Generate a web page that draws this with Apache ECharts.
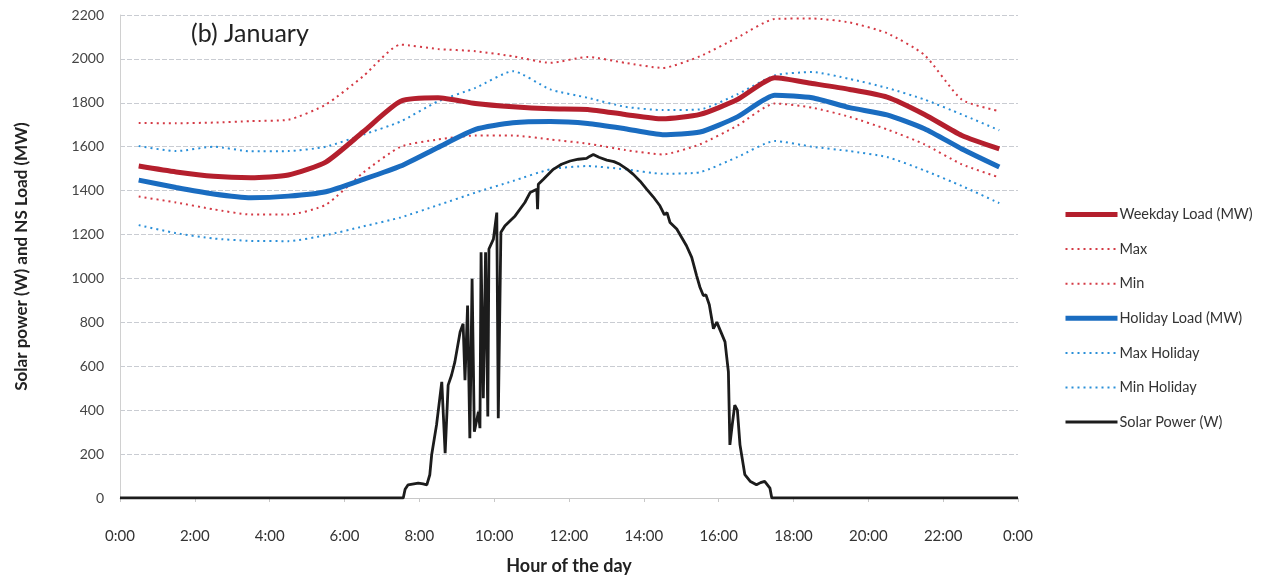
<!DOCTYPE html>
<html>
<head>
<meta charset="utf-8">
<script src="https://cdn.jsdelivr.net/npm/echarts@6/dist/echarts.min.js"></script>
<style>
html,body{margin:0;padding:0;background:#fff;}
#chart{width:1286px;height:580px;}
</style>
</head>
<body>
<div id="chart"></div>
<script>
// Hours (half-hour marks) for the load profiles
const loadHours = [0.5,1.5,2.5,3.5,4.5,5.5,6.5,7.5,8.5,9.5,10.5,11.5,12.5,13.5,14.5,15.5,16.5,17.5,18.5,19.5,20.5,21.5,22.5,23.5];
const weekdayLoad = [1512,1485,1465,1459,1471,1530,1668,1807,1823,1797,1782,1773,1770,1747,1727,1747,1815,1914,1888,1861,1826,1747,1651,1590];
const weekdayMax  = [1708,1707,1710,1717,1723,1792,1921,2065,2045,2035,2012,1982,2009,1982,1959,2012,2097,2182,2184,2166,2117,2018,1814,1762];
const weekdayMin  = [1373,1346,1315,1291,1291,1336,1482,1600,1633,1651,1651,1633,1614,1585,1565,1611,1696,1797,1778,1736,1679,1611,1520,1460];
const holidayLoad = [1448,1414,1385,1368,1375,1395,1451,1512,1597,1679,1709,1715,1706,1682,1655,1667,1736,1835,1823,1778,1745,1682,1590,1508];
const holidayMax  = [1603,1580,1600,1579,1580,1600,1655,1715,1807,1868,1944,1861,1823,1782,1767,1770,1839,1925,1940,1909,1868,1815,1747,1675];
const holidayMin  = [1243,1206,1182,1171,1170,1197,1237,1278,1334,1391,1444,1497,1512,1497,1477,1484,1553,1626,1600,1580,1553,1492,1421,1343];

// Solar power (W): time in hours, value in W
const solarHours = [0,7.57,7.62,7.70,7.97,8.10,8.20,8.28,8.33,8.46,8.60,8.69,8.77,8.86,8.95,9.09,9.17,9.22,9.29,9.35,9.41,9.47,9.58,9.62,9.65,9.71,9.77,9.83,9.86,9.98,10.07,10.11,10.18,10.29,10.56,10.82,10.96,11.14,11.16,11.18,11.31,11.58,11.80,12.03,12.25,12.47,12.55,12.65,12.80,13.01,13.20,13.36,13.55,13.72,13.90,14.08,14.25,14.43,14.55,14.62,14.70,14.88,15.00,15.14,15.28,15.41,15.50,15.59,15.66,15.75,15.86,15.95,16.05,16.17,16.21,16.26,16.30,16.36,16.43,16.50,16.57,16.70,16.85,17.01,17.12,17.23,17.37,17.42,24];
const solarValue = [0,0,40,60,68,64,60,106,197,333,529,204,514,559,620,756,794,537,877,272,998,302,393,318,1119,454,1119,371,1134,1179,1300,363,1210,1240,1285,1346,1391,1406,1315,1429,1451,1497,1520,1535,1543,1547,1556,1565,1552,1539,1532,1520,1498,1474,1443,1406,1372,1331,1290,1300,1255,1225,1190,1149,1096,1013,960,922,925,880,771,801,760,711,650,575,242,330,423,400,242,106,75,60,70,76,45,0,0];

const zip = (xs, ys) => xs.map((x, i) => [x, ys[i]]);

const FONT = 'Lato, "Open Sans", "Liberation Sans", sans-serif';
const RED = '#b41f2d', RED_DOT = '#d43a45', BLUE = '#1a6cc0', BLUE_DOT = '#2a8fd8', SOLAR = '#1c1c1c';
const DOT = [2, 4];

const chart = echarts.init(document.getElementById('chart'));
chart.setOption({
  animation: false,
  backgroundColor: '#ffffff',
  textStyle: { fontFamily: FONT },
  title: {
    text: '(b) January',
    left: 186, top: 16,
    textStyle: { fontFamily: FONT, fontSize: 25, fontWeight: 'normal', color: '#222' }
  },
  grid: { left: 120, right: 268, top: 15, bottom: 80, containLabel: false },
  legend: {
    orient: 'vertical',
    left: 1058, top: 202,
    itemWidth: 52, itemHeight: 14, itemGap: 19.6,
    itemStyle: { opacity: 0 },
    textStyle: { fontFamily: FONT, fontSize: 14.5, color: '#333', padding: [0,0,0,-3] },
    data: [
      { name: 'Weekday Load (MW)', lineStyle: { color: RED, width: 5 } },
      { name: 'Max', lineStyle: { color: RED_DOT, width: 2, type: DOT } },
      { name: 'Min', lineStyle: { color: RED_DOT, width: 2, type: DOT } },
      { name: 'Holiday Load (MW)', lineStyle: { color: BLUE, width: 5 } },
      { name: 'Max Holiday', lineStyle: { color: BLUE_DOT, width: 2, type: DOT } },
      { name: 'Min Holiday', lineStyle: { color: BLUE_DOT, width: 2, type: DOT } },
      { name: 'Solar Power (W)', lineStyle: { color: SOLAR, width: 3 } }
    ]
  },
  xAxis: {
    type: 'value', min: 0, max: 24, interval: 2,
    name: 'Hour of the day', nameLocation: 'middle', nameGap: 59,
    nameTextStyle: { fontFamily: FONT, fontSize: 18, fontWeight: 'bold', color: '#222' },
    axisLine: { show: true, lineStyle: { color: '#c8c8c8', width: 1 } },
    axisTick: { show: true, length: 4, inside: false, lineStyle: { color: '#c8c8c8' } },
    axisLabel: { fontFamily: FONT, fontSize: 15, color: '#333', margin: 31,
      formatter: v => (v % 24) + ':00' },
    splitLine: { show: false }
  },
  yAxis: {
    type: 'value', min: 0, max: 2200, interval: 200,
    name: 'Solar power (W) and NS Load (MW)', nameLocation: 'middle', nameGap: 90,
    nameTextStyle: { fontFamily: FONT, fontSize: 17, fontWeight: 'bold', color: '#222' },
    axisLine: { show: true, lineStyle: { color: '#d0d0d0', width: 1 } },
    axisTick: { show: false },
    axisLabel: { fontFamily: FONT, fontSize: 14, color: '#444', margin: 16, formatter: v => String(v) },
    splitLine: { show: true, lineStyle: { color: '#c9ccd2', width: 1, type: [5, 2] } }
  },
  series: [
    { name: 'Weekday Load (MW)', type: 'line', data: zip(loadHours, weekdayLoad), symbol: 'none', smooth: 0.2,
      lineStyle: { color: RED, width: 5 }, itemStyle: { color: RED }, z: 5 },
    { name: 'Max', type: 'line', data: zip(loadHours, weekdayMax), symbol: 'none', smooth: 0.2,
      lineStyle: { color: RED_DOT, width: 2, type: DOT }, itemStyle: { color: RED_DOT }, z: 3 },
    { name: 'Min', type: 'line', data: zip(loadHours, weekdayMin), symbol: 'none', smooth: 0.2,
      lineStyle: { color: RED_DOT, width: 2, type: DOT }, itemStyle: { color: RED_DOT }, z: 3 },
    { name: 'Holiday Load (MW)', type: 'line', data: zip(loadHours, holidayLoad), symbol: 'none', smooth: 0.2,
      lineStyle: { color: BLUE, width: 5 }, itemStyle: { color: BLUE }, z: 5 },
    { name: 'Max Holiday', type: 'line', data: zip(loadHours, holidayMax), symbol: 'none', smooth: 0.2,
      lineStyle: { color: BLUE_DOT, width: 2, type: DOT }, itemStyle: { color: BLUE_DOT }, z: 3 },
    { name: 'Min Holiday', type: 'line', data: zip(loadHours, holidayMin), symbol: 'none', smooth: 0.2,
      lineStyle: { color: BLUE_DOT, width: 2, type: DOT }, itemStyle: { color: BLUE_DOT }, z: 3 },
    { name: 'Solar Power (W)', type: 'line', data: zip(solarHours, solarValue), symbol: 'none',
      lineStyle: { color: SOLAR, width: 2.8 }, itemStyle: { color: SOLAR }, z: 4 }
  ]
});
</script>
</body>
</html>
